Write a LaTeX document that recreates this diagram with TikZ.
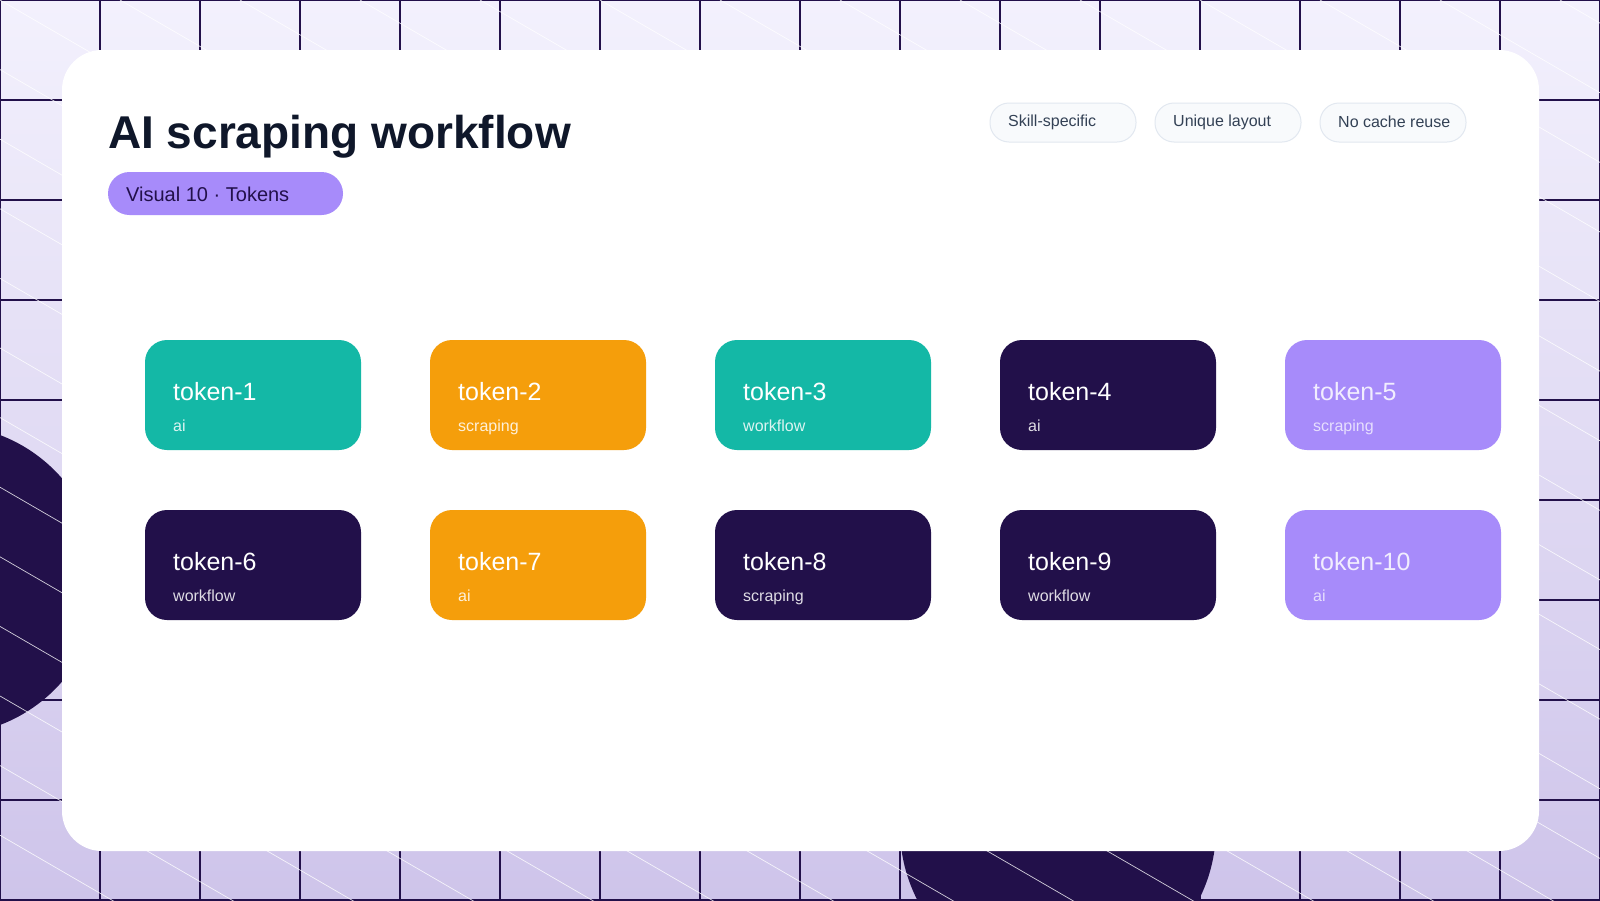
\documentclass[tikz,border=0pt]{standalone}
\usepackage{fontspec}
\setmainfont{Liberation Sans}
\begin{document}
\definecolor{bgtop}{HTML}{F3F1FD}
\definecolor{bgbot}{HTML}{CEC4EA}
\definecolor{navy}{HTML}{22104A}
\definecolor{teal}{HTML}{14B8A6}
\definecolor{amber}{HTML}{F59E0B}
\definecolor{lav}{HTML}{A78BFA}
\definecolor{ink}{HTML}{0F172A}
\definecolor{chipf}{HTML}{F8FAFC}
\definecolor{chipd}{HTML}{E2E8F0}
\definecolor{chipt}{HTML}{334155}
\begin{tikzpicture}[x=1pt,y=-1pt,
  chip/.style={draw=chipd,line width=1pt,fill=chipf,rounded corners=19pt,minimum width=146pt,minimum height=39pt,inner sep=0},
  chipt/.style={anchor=west,inner sep=0,text=chipt,font=\fontsize{16}{16}\selectfont},
  tok/.style={rounded corners=22pt,minimum width=216pt,minimum height=110pt,inner sep=0},
  tt/.style={anchor=base west,inner sep=0,text=white,font=\fontsize{25}{25}\selectfont},
  ts/.style={anchor=base west,inner sep=0,text=white,font=\fontsize{16}{16}\selectfont}]
\useasboundingbox (0,0) rectangle (1600,900);
\begin{scope}
\clip (0,0) rectangle (1600,900);
\shade[top color=bgtop,bottom color=bgbot] (0,0) rectangle (1600,900);
\fill[navy] (-55,580) circle (155);
\fill[navy] (1058,828) circle (158);
\foreach \i in {0,100,...,1600} \draw[navy,line width=1.1pt] (\i,0) -- (\i,900);
\foreach \j in {0,100,...,900} \draw[navy,line width=1.1pt] (0,\j) -- (1600,\j);
\foreach \k in {-14,...,14} \draw[white,line width=0.7pt,opacity=0.8] (\k*120,0) -- (\k*120+1600,928);
\end{scope}
\fill[white,rounded corners=40pt] (62,50) rectangle (1539,851);
\node[anchor=base west,inner sep=0,text=ink,font=\fontsize{46}{46}\selectfont\bfseries] (title) at (108,148) {AI scraping workflow};
\node[fill=lav,rounded corners=21.5pt,minimum width=235pt,minimum height=43pt,inner sep=0] (pill) at (225.5,193.5) {};
\node[anchor=west,inner sep=0,text=navy,font=\fontsize{20}{20}\selectfont] (pillt) at (126,194) {Visual 10 · Tokens};
\node[chip] (c1) at (1063,122.5) {};
\node[chip] (c2) at (1228,122.5) {};
\node[chip] (c3) at (1393,122.5) {};
\node[chipt] (c1t) at (1008,122) {Skill-specific};
\node[chipt] (c2t) at (1173,122) {Unique layout};
\node[chipt] (c3t) at (1338,122) {No cache reuse};
\foreach \n/\c/\s/\col/\row/\op [count=\i] in {
 1/teal/ai/0/0/1, 2/amber/scraping/1/0/1, 3/teal/workflow/2/0/1, 4/navy/ai/3/0/1, 5/lav/scraping/4/0/0.85,
 6/navy/workflow/0/1/1, 7/amber/ai/1/1/1, 8/navy/scraping/2/1/1, 9/navy/workflow/3/1/1, 10/lav/ai/4/1/0.85}{
 \node[tok,fill=\c] (t\n) at (253+\col*285,395+\row*170) {};
 \node[tt,opacity=\op] (tt\n) at (173+\col*285,400+\row*170) {token-\n};
 \node[ts,opacity=0.85*\op] (ts\n) at (173+\col*285,431+\row*170) {\s};
}
\end{tikzpicture}
\end{document}
